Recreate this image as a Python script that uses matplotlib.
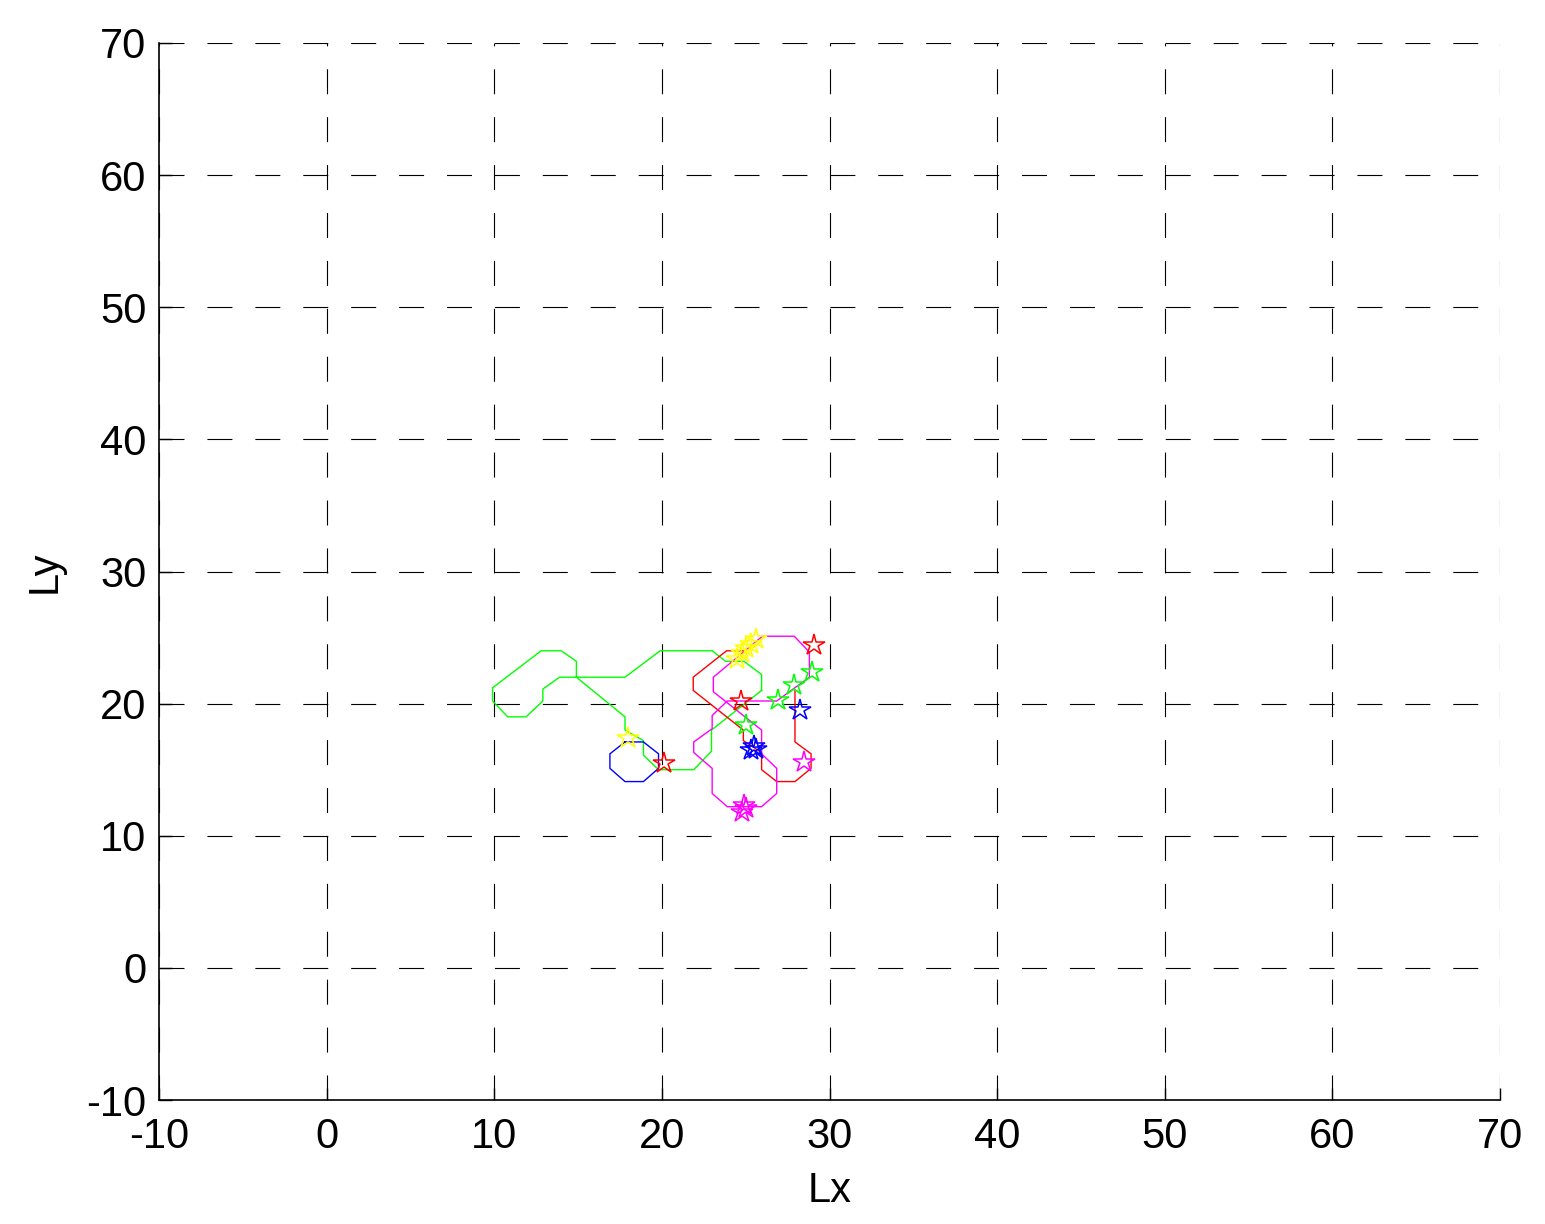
import matplotlib
matplotlib.use('Agg')
import matplotlib.pyplot as plt

# ---------------- data ----------------
x_ticks = [-10, 0, 10, 20, 30, 40, 50, 60, 70]
y_ticks = [-10, 0, 10, 20, 30, 40, 50, 60, 70]

green_x = [25.95, 25.95, 24.9, 23.8, 23.0, 19.9, 17.8, 13.9, 12.9, 12.9, 11.9, 10.8, 9.9, 9.9,
           12.8, 14.0, 14.9, 14.9, 17.8, 17.8, 18.9, 18.9, 19.8, 21.9, 22.96, 22.96, 25.95]
green_y = [21.0, 22.2, 23.2, 23.2, 24.0, 24.0, 22.0, 22.0, 21.1, 20.2, 19.0, 19.0, 20.2, 21.2,
           24.0, 24.0, 23.2, 22.0, 19.0, 18.0, 17.2, 16.1, 15.0, 15.0, 16.4, 18.0, 21.0]

red_x = [27.94, 27.94, 28.9, 28.9, 27.94, 26.85, 25.95, 25.95, 24.86, 24.86, 21.87, 21.87, 23.86, 24.86]
red_y = [21.0, 17.1, 16.2, 15.1, 14.1, 14.1, 15.0, 16.3, 17.2, 18.0, 21.0, 22.0, 24.0, 24.0]

blue_x = [17.8, 18.9, 19.8, 19.8, 18.9, 17.8, 16.9, 16.9, 17.8]
blue_y = [17.1, 17.1, 16.2, 15.1, 14.1, 14.1, 15.1, 16.2, 17.1]

magenta_x = [25.95, 26.85, 26.85, 25.95, 23.9, 23.0, 23.0, 21.9, 21.9, 23.0, 23.0, 23.9, 26.85,
             28.8, 28.8, 27.9, 26.0, 23.07, 23.07, 25.95, 25.95]
magenta_y = [16.2, 15.1, 13.2, 12.2, 12.2, 13.2, 15.1, 16.3, 17.1, 18.1, 19.1, 20.2, 20.2,
             22.0, 23.9, 25.1, 25.1, 22.0, 20.9, 18.0, 16.2]

red_star_x = [20.1, 24.7, 29.1]
red_star_y = [15.5, 20.2, 24.4]
green_star_x = [25.0, 26.9, 27.9, 28.95]
green_star_y = [18.4, 20.3, 21.4, 22.4]
blue_star_x = [25.3, 25.5, 25.6, 28.25]
blue_star_y = [16.5, 16.8, 16.6, 19.5]
yellow_star_x = [18.0, 24.5, 24.8, 25.0, 25.3, 25.6]
yellow_star_y = [17.4, 23.4, 23.8, 24.2, 24.5, 24.9]
magenta_star_x = [24.8, 25.0, 24.9, 28.45]
magenta_star_y = [11.8, 12.1, 12.3, 15.6]

# ---------------- figure ----------------
plt.rcParams['font.family'] = ['Liberation Sans', 'DejaVu Sans']
plt.rcParams['lines.scale_dashes'] = False
plt.rcParams['axes.unicode_minus'] = False

W, H = 1545, 1224
fig = plt.figure(figsize=(W / 100, H / 100), dpi=100)
ax = fig.add_axes([159 / W, 1 - 1100 / H, (1500 - 159) / W, (1100 - 43) / H])

lw = 1.0
ax.plot(green_x, green_y, color=(0, 1, 0), lw=lw)
ax.plot(red_x, red_y, color=(1, 0, 0), lw=lw)
ax.plot(blue_x, blue_y, color=(0, 0, 1), lw=lw)
ax.plot(magenta_x, magenta_y, color=(1, 0, 1), lw=lw)

star_kw = dict(linestyle='none', marker='*', markersize=16, markerfacecolor='none', markeredgewidth=1.1)
ax.plot(red_star_x, red_star_y, markeredgecolor=(1, 0, 0), **star_kw)
ax.plot(green_star_x, green_star_y, markeredgecolor=(0, 1, 0), **star_kw)
ax.plot(blue_star_x, blue_star_y, markeredgecolor=(0, 0, 1), **star_kw)
ax.plot(yellow_star_x, yellow_star_y, markeredgecolor=(1, 1, 0), **star_kw)
ax.plot(magenta_star_x, magenta_star_y, markeredgecolor=(1, 0, 1), **star_kw)

ax.set_xlim(-10, 70)
ax.set_ylim(-10, 70)
ax.set_xticks(x_ticks)
ax.set_yticks(y_ticks)
ax.set_xticklabels([str(v) for v in x_ticks])
ax.set_yticklabels([str(v) for v in y_ticks])

ax.grid(True, color='k', linestyle=(0, (18, 16.5)), linewidth=0.8)
ax.set_axisbelow(True)
for s in ['top', 'right']:
    ax.spines[s].set_visible(False)
for s in ['left', 'bottom']:
    ax.spines[s].set_linewidth(1.2)

ax.tick_params(direction='in', length=9, width=1, labelsize=30, colors='k')
ax.tick_params(axis='x', pad=12)
ax.tick_params(axis='y', pad=9)
ax.set_xlabel('Lx', fontsize=30, labelpad=10)
ax.set_ylabel('Ly', fontsize=30, labelpad=16)

fig.savefig('out.png', dpi=100, facecolor='white')
